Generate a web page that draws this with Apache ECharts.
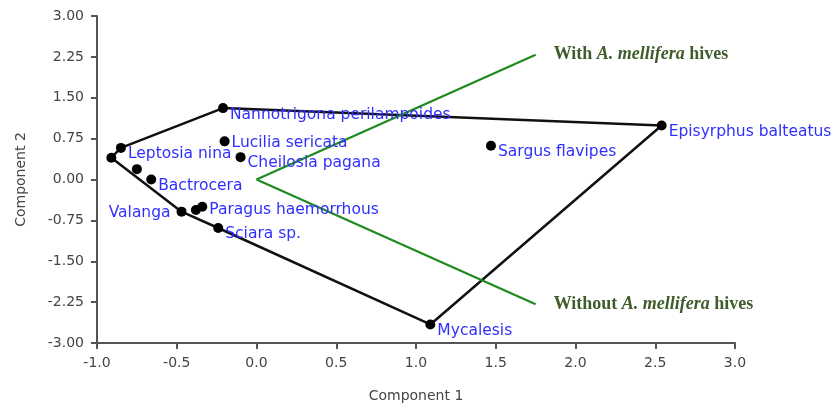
<!DOCTYPE html>
<html>
<head>
<meta charset="utf-8">
<script src="https://cdn.jsdelivr.net/npm/echarts@6/dist/echarts.min.js"></script>
<style>
  html, body { margin: 0; padding: 0; background: #fff; }
  #chart { width: 832px; height: 408px; }
</style>
</head>
<body>
<div id="chart"></div>
<script>
// PCA scores of visiting insect taxa (Component 1 vs Component 2)
const taxa = [
  'Nannotrigona perilampoides', 'Leptosia nina', '', 'Bactrocera', '',
  'Lucilia sericata', 'Cheilosia pagana', 'Valanga', '', 'Paragus haemorrhous',
  'Sciara sp.', 'Sargus flavipes', 'Episyrphus balteatus', 'Mycalesis'
];
const comp1 = [-0.21, -0.85, -0.91, -0.66, -0.75, -0.20, -0.10, -0.47, -0.38, -0.34, -0.24, 1.47, 2.54, 1.09];
const comp2 = [1.31, 0.58, 0.40, 0.00, 0.19, 0.70, 0.41, -0.59, -0.56, -0.50, -0.89, 0.62, 0.99, -2.66];

// convex hull vertices, as indices into the arrays above
const hullOrder = [0, 12, 13, 10, 7, 2, 1, 0];

// group direction vectors drawn from the origin
const withHives = [[0, 0], [1.75, 2.29]];
const withoutHives = [[0, 0], [1.75, -2.29]];

const xTicks = { min: -1, max: 3, interval: 0.5 };
const yTicks = { min: -3, max: 3, interval: 0.75 };

const labelBlue = '#2f2fff';
const noteGreen = '#3f5d2c';
const axisGray = '#555';
const dotSize = 10;

// vertical nudges (px) for a few labels that sit closer to their dots
const labelDrop = { 'Lucilia sericata': 2, 'Paragus haemorrhous': 3, 'Nannotrigona perilampoides': 7 };

const chart = echarts.init(document.getElementById('chart'));

// labels sit just right of and slightly below each dot; Valanga's goes to the left
const points = comp1.map((x, i) => {
  const name = taxa[i];
  const drop = name in labelDrop ? labelDrop[name] : 6;
  return {
    value: [x, comp2[i]],
    name: name,
    label: name === 'Valanga'
      ? { position: [-6, dotSize / 2 + 1], align: 'right', verticalAlign: 'middle' }
      : { position: [dotSize + 2, dotSize / 2 + drop], align: 'left', verticalAlign: 'middle' }
  };
});
const hull = hullOrder.map(i => [comp1[i], comp2[i]]);

const noteRich = {
  b: { fontFamily: 'Liberation Serif', fontWeight: 'bold', fontSize: 18, color: noteGreen },
  bi: { fontFamily: 'Liberation Serif', fontWeight: 'bold', fontStyle: 'italic', fontSize: 18, color: noteGreen }
};

function groupLine(pts, text) {
  return {
    type: 'line',
    data: pts,
    symbol: 'none',
    lineStyle: { color: '#1f8a1f', width: 2.2 },
    endLabel: {
      show: true, distance: 18,
      formatter: text, rich: noteRich
    },
    z: 3,
    silent: true
  };
}

const axisText = { fontFamily: 'DejaVu Sans', fontSize: 14, color: '#444' };

chart.setOption({
  animation: false,
  grid: { left: 97, right: 97, top: 16, bottom: 62, containLabel: false },
  xAxis: {
    type: 'value', min: xTicks.min, max: xTicks.max, interval: xTicks.interval,
    name: 'Component 1', nameLocation: 'middle', nameGap: 46,
    nameTextStyle: axisText,
    axisLine: { onZero: false, lineStyle: { color: axisGray, width: 2 } },
    axisTick: { show: true, length: 6, lineStyle: { color: axisGray, width: 2 } },
    axisLabel: Object.assign({ margin: 13, formatter: v => v.toFixed(1) }, axisText),
    splitLine: { show: false }
  },
  yAxis: {
    type: 'value', min: yTicks.min, max: yTicks.max, interval: yTicks.interval,
    name: 'Component 2', nameLocation: 'middle', nameGap: 69, nameRotate: 90,
    nameTextStyle: axisText,
    axisLine: { onZero: false, lineStyle: { color: axisGray, width: 2 } },
    axisTick: { show: true, length: 6, lineStyle: { color: axisGray, width: 2 } },
    axisLabel: Object.assign({ margin: 13, formatter: v => v.toFixed(2) }, axisText),
    splitLine: { show: false }
  },
  series: [
    {
      type: 'line',
      data: hull,
      symbol: 'none',
      lineStyle: { color: '#111', width: 2.5 },
      z: 2,
      silent: true
    },
    groupLine(withHives, '{b|With }{bi|A. mellifera}{b| hives}'),
    groupLine(withoutHives, '{b|Without }{bi|A. mellifera}{b| hives}'),
    {
      type: 'scatter',
      data: points,
      symbolSize: dotSize,
      itemStyle: { color: '#000', opacity: 1 },
      z: 4,
      label: {
        show: true,
        formatter: p => p.name,
        fontFamily: 'DejaVu Sans',
        fontSize: 15.5,
        color: labelBlue
      },
      labelLayout: { hideOverlap: false }
    }
  ]
});
</script>
</body>
</html>
